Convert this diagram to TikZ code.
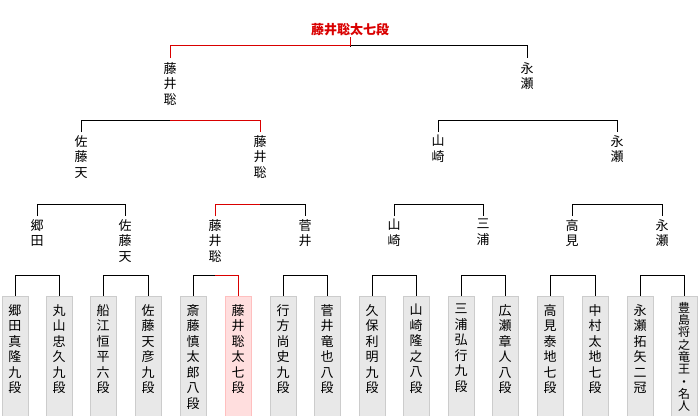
\documentclass[tikz,border=0pt]{standalone}
\usepackage{fontspec}
\setmainfont{Noto Sans CJK JP}
\tikzset{
  player/.style={draw=gray!40, fill=gray!18, minimum width=26pt, minimum height=130pt, anchor=north, inner sep=0pt},
  champ/.style={player, draw=red!25, fill=red!13},
  vtext/.style={align=center, font=\fontsize{13}{15.5}\selectfont, inner sep=0pt, anchor=north},
  edge/.style={black, line width=0.8pt},
  win/.style={red!85!black, line width=0.8pt}
}
\begin{document}
\begin{tikzpicture}[x=1pt,y=-1pt]
\useasboundingbox (0,0) rectangle (700,415);
\clip (0,0) rectangle (700,415);

% first round
\foreach \n/\x/\name in {1/15/{郷\\田\\真\\隆\\九\\段}, 2/59/{丸\\山\\忠\\久\\九\\段},
  3/103/{船\\江\\恒\\平\\六\\段}, 4/148/{佐\\藤\\天\\彦\\九\\段},
  5/193/{斎\\藤\\慎\\太\\郎\\八\\段}, 7/283/{行\\方\\尚\\史\\九\\段}, 8/327/{菅\\井\\竜\\也\\八\\段},
  9/372/{久\\保\\利\\明\\九\\段}, 10/416/{山\\崎\\隆\\之\\八\\段},
  11/461/{三\\浦\\弘\\行\\九\\段}, 12/505/{広\\瀬\\章\\人\\八\\段},
  13/550/{高\\見\\泰\\地\\七\\段}, 14/595/{中\\村\\太\\地\\七\\段},
  15/640/{永\\瀬\\拓\\矢\\二\\冠}}
  \node[player] (p\n) at (\x,296) {};
\foreach \n/\x/\name in {1/15/{郷\\田\\真\\隆\\九\\段}, 2/59/{丸\\山\\忠\\久\\九\\段},
  3/103/{船\\江\\恒\\平\\六\\段}, 4/148/{佐\\藤\\天\\彦\\九\\段},
  5/193/{斎\\藤\\慎\\太\\郎\\八\\段}, 7/283/{行\\方\\尚\\史\\九\\段}, 8/327/{菅\\井\\竜\\也\\八\\段},
  9/372/{久\\保\\利\\明\\九\\段}, 10/416/{山\\崎\\隆\\之\\八\\段},
  11/461/{三\\浦\\弘\\行\\九\\段}, 12/505/{広\\瀬\\章\\人\\八\\段},
  13/550/{高\\見\\泰\\地\\七\\段}, 14/595/{中\\村\\太\\地\\七\\段},
  15/640/{永\\瀬\\拓\\矢\\二\\冠}}
  \node[vtext] at (\x,304) {\name};
\node[player] (p16) at (684,296) {};
\node[vtext, font=\fontsize{12}{12.3}\selectfont] at (684,302) {豊\\島\\将\\之\\竜\\王\\・\\名\\人};
\node[champ] (p6) at (238,296) {};
\node[vtext] at (238,304) {藤\\井\\聡\\太\\七\\段};

% later rounds
\foreach \n/\x/\name in {1/37/{郷\\田}, 2/125/{佐\\藤\\天}, 3/215/{藤\\井\\聡}, 4/305/{菅\\井},
  5/394/{山\\崎}, 6/483/{三\\浦}, 7/572/{高\\見}, 8/662/{永\\瀬}}
  \node[vtext] (q\n) at (\x,219) {\name};
\foreach \n/\x/\name in {1/81/{佐\\藤\\天}, 2/260/{藤\\井\\聡}, 3/438/{山\\崎}, 4/617/{永\\瀬}}
  \node[vtext] (r\n) at (\x,135) {\name};
\node[vtext] (s1) at (170,62) {藤\\井\\聡};
\node[vtext] (s2) at (527,62) {永\\瀬};
\node[text=red!85!black, font=\fontsize{13}{15}\selectfont\bfseries, inner sep=1pt] (top) at (350,30) {藤井聡太七段};

% brackets
\foreach \a/\b in {1/2,3/4,5/6,7/8,9/10,11/12,13/14,15/16}
  \draw[edge] (p\a.north) -- ++(0,-21) -| (p\b.north);
\foreach \a/\b in {1/2,3/4,5/6,7/8}
  \draw[edge] ([yshift=3pt]q\a.north) -- ++(0,-12) -| ([yshift=3pt]q\b.north);
\foreach \a/\b in {1/2,3/4}
  \draw[edge] ([yshift=3pt]r\a.north) -- ++(0,-12) -| ([yshift=3pt]r\b.north);
\draw[edge] ([yshift=4pt]s1.north) -- ++(0,-13) -| ([yshift=4pt]s2.north);
\draw[edge] (top.south) -- ++(0,10);

% winner path
\draw[win] (p6.north) -- ++(0,-21) coordinate (w1) -- (w1 -| q3);
\draw[win] ([yshift=3pt]q3.north) -- ++(0,-12) coordinate (w2) -- (w2 -| r2);
\draw[win] ([yshift=3pt]r2.north) -- ++(0,-12) coordinate (w3) -- (w3 -| s1);
\draw[win] ([yshift=4pt]s1.north) -- ++(0,-13) coordinate (w4) -- (w4 -| top) -- (top.south);
\end{tikzpicture}
\end{document}
